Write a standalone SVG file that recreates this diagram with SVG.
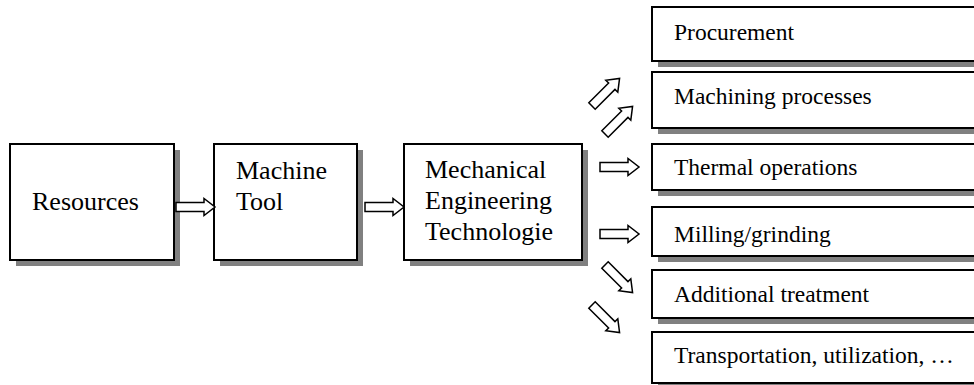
<svg xmlns="http://www.w3.org/2000/svg" xmlns:xlink="http://www.w3.org/1999/xlink" width="974" height="385" viewBox="0 0 974 385">
  <style>
    .shadow { fill: #808080; stroke: none; }
    .box { fill: #ffffff; stroke: #000000; stroke-width: 2; }
    .big { font-family: "Liberation Serif", "Times New Roman", serif; font-size: 26px; fill: #000000; }
    .small { font-family: "Liberation Serif", "Times New Roman", serif; font-size: 23.5px; fill: #000000; }
    .arrow { fill: #ffffff; stroke: #000000; stroke-width: 1.5; stroke-linejoin: miter; }
  </style>
  <defs>
    <!-- hollow block arrow pointing along +x, tail at origin -->
    <path id="blockArrow" class="arrow" d="M0,-4.5 L28,-4.5 L28,-8.5 L39,0 L28,8.5 L28,4.5 L0,4.5 Z"/>
  </defs>
  <rect width="974" height="385" fill="#ffffff"/>

  <g id="resources">
    <rect class="shadow" x="16" y="150" width="164" height="116"/>
    <rect class="box" x="10" y="144" width="164" height="116"/>
    <text class="big" x="32" y="210">Resources</text>
  </g>

  <g id="machine-tool">
    <rect class="shadow" x="220" y="150" width="143" height="116"/>
    <rect class="box" x="214" y="144" width="143" height="116"/>
    <text class="big" x="236" y="179">Machine</text>
    <text class="big" x="236" y="210">Tool</text>
  </g>

  <g id="mech-eng">
    <rect class="shadow" x="410" y="150" width="178" height="116"/>
    <rect class="box" x="404" y="144" width="178" height="116"/>
    <text class="big" x="425" y="178">Mechanical</text>
    <text class="big" x="425" y="209">Engineering</text>
    <text class="big" x="425" y="240">Technologie</text>
  </g>

  <g id="procurement">
    <rect class="shadow" x="658" y="13" width="400" height="54"/>
    <rect class="box" x="652" y="7" width="400" height="54"/>
    <text class="small" x="674" y="40">Procurement</text>
  </g>

  <g id="machining">
    <rect class="shadow" x="658" y="78" width="400" height="56"/>
    <rect class="box" x="652" y="72" width="400" height="56"/>
    <text class="small" x="674" y="104">Machining processes</text>
  </g>

  <g id="thermal">
    <rect class="shadow" x="658" y="150" width="400" height="46"/>
    <rect class="box" x="652" y="144" width="400" height="46"/>
    <text class="small" x="674" y="175">Thermal operations</text>
  </g>

  <g id="milling">
    <rect class="shadow" x="658" y="213" width="400" height="49"/>
    <rect class="box" x="652" y="207" width="400" height="49"/>
    <text class="small" x="674" y="242">Milling/grinding</text>
  </g>

  <g id="additional">
    <rect class="shadow" x="658" y="276" width="400" height="48"/>
    <rect class="box" x="652" y="270" width="400" height="48"/>
    <text class="small" x="674" y="302">Additional treatment</text>
  </g>

  <g id="transport">
    <rect class="shadow" x="658" y="338" width="400" height="51"/>
    <rect class="box" x="652" y="332" width="400" height="51"/>
    <text class="small" x="674" y="363">Transportation, utilization, …</text>
  </g>

  <g id="connectors">
    <use xlink:href="#blockArrow" transform="translate(176,207)"/>
    <use xlink:href="#blockArrow" transform="translate(365,207)"/>
    <use xlink:href="#blockArrow" transform="translate(592,106) rotate(-45)"/>
    <use xlink:href="#blockArrow" transform="translate(605,134) rotate(-45)"/>
    <use xlink:href="#blockArrow" transform="translate(600,167)"/>
    <use xlink:href="#blockArrow" transform="translate(600,234)"/>
    <use xlink:href="#blockArrow" transform="translate(605,265) rotate(45)"/>
    <use xlink:href="#blockArrow" transform="translate(592,305) rotate(45)"/>
  </g>
</svg>
